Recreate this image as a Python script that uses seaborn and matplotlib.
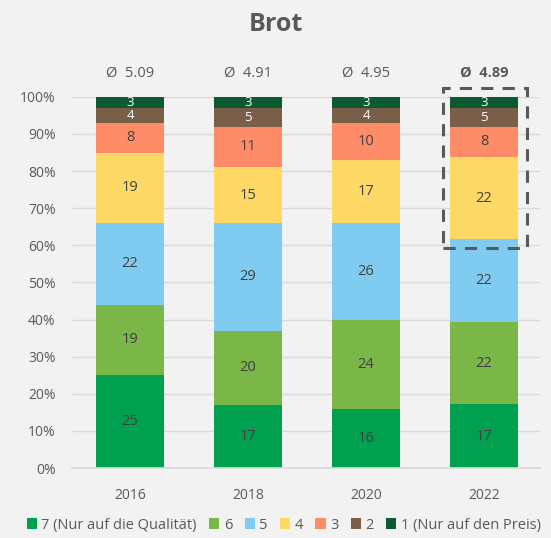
import matplotlib
matplotlib.use("Agg")
import matplotlib.pyplot as plt
from matplotlib.patches import Rectangle
import seaborn as sns
import pandas as pd
import numpy as np

years = ["2016", "2018", "2020", "2022"]
series_names = ["7 (Nur auf die Qualität)", "6", "5", "4", "3", "2", "1 (Nur auf den Preis)"]
v7 = [25, 17, 16, 17]
v6 = [19, 20, 24, 22]
v5 = [22, 29, 26, 22]
v4 = [19, 15, 17, 22]
v3 = [8, 11, 10, 8]
v2 = [4, 5, 4, 5]
v1 = [3, 3, 3, 3]
averages = ["5.09", "4.91", "4.95", "4.89"]
colors = ["#00A050", "#7AB648", "#7FCCF0", "#FFD966", "#FF8C69", "#7A5F48", "#0B5A32"]
label_colors = ["#404040"] * 5 + ["white", "white"]

sns.set_theme(style="white")
plt.rcParams["font.family"] = ["Open Sans", "DejaVu Sans"]

series = [v7, v6, v5, v4, v3, v2, v1]
totals = np.sum(np.array(series), axis=0)

fig = plt.figure(figsize=(5.51, 5.38), dpi=100, facecolor="#F2F2F2")
ax = fig.add_axes([0.131, 0.130, 0.849, 0.690])
ax.set_facecolor("#F2F2F2")

bottom = np.zeros(len(years))
for name, vals, col, lc in zip(series_names, series, colors, label_colors):
    pct = np.array(vals) / totals * 100
    df = pd.DataFrame({"year": years, "pct": pct})
    sns.barplot(data=df, x="year", y="pct", bottom=bottom, color=col, width=0.58,
                ax=ax, label=name, edgecolor="none", linewidth=0, saturation=1, errorbar=None)
    for i, (p, v) in enumerate(zip(pct, vals)):
        ax.text(i, bottom[i] + p / 2, str(v), ha="center", va="center",
                fontsize=9.5 if p < 6 else 10.5, color=lc)
    bottom = bottom + pct

ax.set_ylim(0, 100)
ax.set_xlim(-0.49, 3.475)
ax.set_yticks(np.arange(0, 101, 10))
ax.set_yticklabels([f"{t}%" for t in range(0, 101, 10)])
ax.yaxis.grid(True, color="#D9D9D9", linewidth=1)
ax.set_axisbelow(True)
for s in ax.spines.values():
    s.set_visible(False)
ax.spines["bottom"].set_visible(True)
ax.spines["bottom"].set_color("#D9D9D9")
ax.tick_params(axis="both", length=0, labelsize=10, labelcolor="#595959")
ax.tick_params(axis="y", pad=12)
ax.tick_params(axis="x", pad=14)
ax.set_xlabel("")
ax.set_ylabel("")

for i, a in enumerate(averages):
    ax.text(i, 106.5, f"Ø  {a}", ha="center", va="center", fontsize=10.5,
            color="#595959", fontweight="bold" if i == 3 else "normal")

rect = Rectangle((2.65, 59.3), 0.714, 43.1, fill=False, edgecolor="#595959",
                 linestyle=(0, (4, 3)), linewidth=2.2, clip_on=False, zorder=5)
ax.add_patch(rect)

fig.text(0.5, 0.955, "Brot", ha="center", va="center", fontsize=18,
         fontweight="bold", color="#595959")

handles, labels = ax.get_legend_handles_labels()
leg = fig.legend(handles, labels, loc="center", bbox_to_anchor=(0.515, 0.024), ncol=7,
                 frameon=False, fontsize=10.5, handlelength=0.7, handleheight=0.7,
                 handletextpad=0.3, columnspacing=0.85, labelcolor="#595959")
if ax.get_legend():
    ax.get_legend().remove()

fig.savefig("out.png", dpi=100, facecolor=fig.get_facecolor())
